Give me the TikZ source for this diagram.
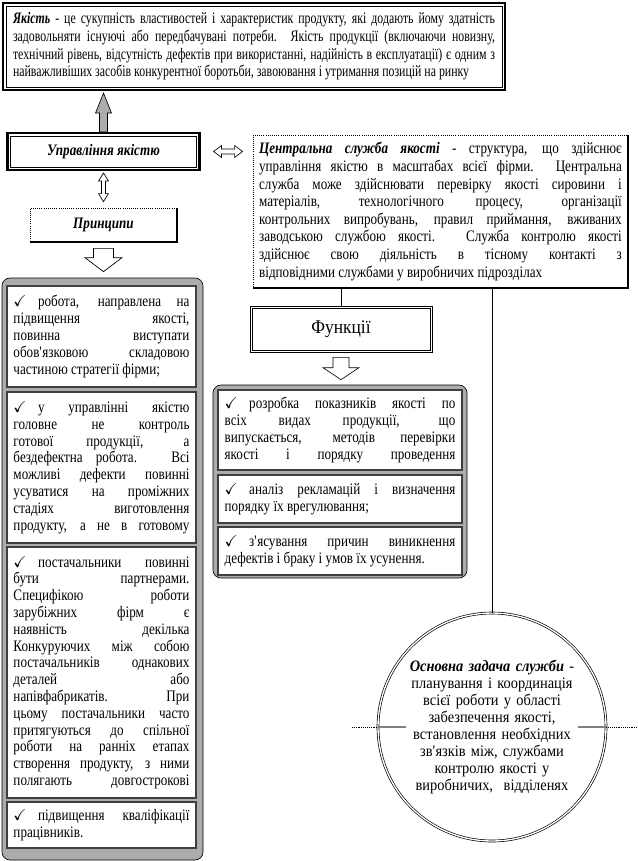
\documentclass[tikz,border=0pt]{standalone}
\usepackage{amssymb}
\usepackage{fontspec}
\setmainfont{Liberation Serif}[FakeStretch=0.82]
\newfontfamily\narrowserif{Liberation Serif}[FakeStretch=0.74]
\newfontfamily\wideserif{Liberation Serif}[FakeStretch=0.9]
\usetikzlibrary{calc,positioning}
\newcommand{\chk}{$\checkmark$\hspace{0.7em}}
\newcommand{\contd}{{\parfillskip=0pt\par}}
\newcommand{\apo}{\textquotesingle}

\begin{document}
\begin{tikzpicture}[x=0.75pt,y=-0.75pt,
    every node/.style={inner sep=0pt},
    txt/.style={font=\fontsize{12}{13.2}\selectfont},
    lsttxt/.style={font=\fontsize{12}{12.6}\selectfont},
    titletxt/.style={font=\fontsize{12}{13.2}\selectfont\bfseries\itshape},
    thickframe/.style={draw,line width=1.6pt},
    thinframe/.style={draw,line width=0.5pt},
    shadowframe/.style={draw,densely dotted,line width=0.6pt},
    shadowline/.style={line width=1.6pt},
    listframe/.style={draw,rounded corners=6pt,fill=gray!65,line width=0.5pt},
    pbox/.style={lsttxt,draw=black!75,line width=1pt,fill=white,minimum width=141.75pt,text width=132pt,align=justify},
    fbox/.style={lsttxt,draw=black!75,line width=1pt,fill=white,minimum width=183pt,text width=173pt,align=justify},
    hollow/.style={draw,line width=0.5pt,fill=white},
    stipple/.style={draw,line width=0.5pt,fill=gray!65}
  ]
  \useasboundingbox (0,0) rectangle (638,861);

  % quality definition
  \node[thickframe,font=\narrowserif\fontsize{12}{13.2}\selectfont,minimum width=376.5pt,minimum height=65.25pt,text width=361.5pt,align=justify] (qual) at (254,46.5)
    {\textbf{\textit{Якість}} - це сукупність властивостей і характеристик продукту, які додають йому здатність\linebreak
     задовольняти існуючі або передбачувані потреби. Якість продукції (включаючи новизну,\linebreak
     технічний рівень, відсутність дефектів при використанні, надійність в експлуатації) є одним з\linebreak
     найважливіших засобів конкурентної боротьби, завоювання і утримання позицій на ринку};
  \draw[thinframe] ([shift={(4,4)}]qual.north west) rectangle ([shift={(-4,-4)}]qual.south east);

  \node[thickframe,titletxt,minimum width=144pt,minimum height=27.75pt] (upr) at (103.5,151.5) {Управління якістю};
  \draw[thinframe] ([shift={(4,4)}]upr.north west) rectangle ([shift={(-4,-4)}]upr.south east);

  % central service
  \node[shadowframe,txt,minimum width=281.25pt,minimum height=114.75pt,text width=272pt,align=justify] (central) at (440.5,211.5)
    {\textbf{\textit{Центральна служба якості}} - структура, що здійснює\linebreak
     управління якістю в масштабах всієї фірми. Центральна\linebreak
     служба може здійснювати перевірку якості сировини і\linebreak
     матеріалів, технологічного процесу, організації\linebreak
     контрольних випробувань, правил приймання, вживаних\linebreak
     заводською службою якості. Служба контролю якості\linebreak
     здійснює свою діяльність в тісному контакті з\linebreak
     відповідними службами у виробничих підрозділах};
  \draw[shadowline] (central.north east) -- (central.south east) -- (central.south west);

  \node[shadowframe,titletxt,minimum width=110.25pt,minimum height=25.5pt] (prin) at (103.5,225) {Принципи};
  \draw[shadowline] (prin.north east) -- (prin.south east) -- (prin.south west);

  \node[thinframe,font=\wideserif\fontsize{14.5}{16}\selectfont,minimum width=136.5pt,minimum height=34.5pt] (funk) at (341,329) {Функції};
  \draw[thinframe] ([shift={(2.5,2.5)}]funk.north west) rectangle ([shift={(-2.5,-2.5)}]funk.south east);

  % principles
  \node[listframe,minimum width=150.75pt,minimum height=436.5pt] (plist) at (102.5,569) {};
  \node[pbox,minimum height=75.75pt] (p1) at (101.5,336.5)
    {\chk робота, направлена на\linebreak підвищення якості,\linebreak повинна виступати\linebreak
     обов\apo язковою складовою\linebreak частиною стратегії фірми;};
  \node[pbox,minimum height=113.25pt] (p2) at (101.5,467.5)
    {\chk у управлінні якістю\linebreak головне не контроль\linebreak готової продукції, а\linebreak
     бездефектна робота. Всі\linebreak можливі дефекти повинні\linebreak усуватися на проміжних\linebreak
     стадіях виготовлення\linebreak продукту, а не в готовому\contd};
  \node[pbox,minimum height=188.25pt] (p3) at (101.5,672.5)
    {\chk постачальники повинні\linebreak бути партнерами.\linebreak Специфікою роботи\linebreak
     зарубіжних фірм є\linebreak наявність декілька\linebreak Конкуруючих між собою\linebreak
     постачальників однакових\linebreak деталей або\linebreak напівфабрикатів. При\linebreak
     цьому постачальники часто\linebreak притягуються до спільної\linebreak роботи на ранніх етапах\linebreak
     створення продукту, з ними\linebreak полягають довгострокові\contd};
  \node[pbox,minimum height=34.5pt] (p4) at (101.5,825)
    {\chk підвищення кваліфікації\linebreak працівників.};

  % functions
  \node[listframe,minimum width=190.5pt,minimum height=144.75pt] (flist) at (340,481.5) {};
  \node[fbox,minimum height=60pt] (f1) at (340,430)
    {\chk розробка показників якості по\linebreak всіх видах продукції, що\linebreak
     випускається, методів перевірки\linebreak якості і порядку проведення\contd};
  \node[fbox,minimum height=36pt] (f2) at (340,499)
    {\chk аналіз рекламацій і визначення\linebreak порядку їх врегулювання;};
  \node[fbox,minimum height=36pt] (f3) at (340,551)
    {\chk з\apo ясування причин виникнення\linebreak дефектів і браку і умов їх усунення.};

  % main task
  \node[circle,draw,double,double distance=1pt,line width=0.5pt,minimum size=171pt,font=\wideserif\fontsize{12}{12.8}\selectfont,text width=130pt,align=center] (circ) at (492,727)
    {\textbf{\textit{Основна задача служби}} -\\ планування і координація\\ всієї роботи у області\\
     забезпечення якості,\\ встановлення необхідних\\ зв\apo язків між, службами\\ контролю якості у\\
     виробничих,~ відділенях};

  % arrows
  \coordinate (qtip) at (upr.north |- qual.south);
  \draw[stipple] ($(upr.north)+(-4,0)$) -- ($(qtip)+(-4,22)$) -- ($(qtip)+(-8,22)$) -- ($(qtip)+(0,2)$)
    -- ($(qtip)+(8,22)$) -- ($(qtip)+(4,22)$) -- ($(upr.north)+(4,0)$) -- cycle;

  \coordinate (ha) at ($(upr.east)+(13,0)$);
  \coordinate (hb) at ($(upr.east -| central.west)+(-10,0)$);
  \draw[hollow] (ha) -- ($(ha)+(8,-6)$) -- ($(ha)+(8,-2.5)$) -- ($(hb)+(-8,-2.5)$) -- ($(hb)+(-8,-6)$) -- (hb)
    -- ($(hb)+(-8,6)$) -- ($(hb)+(-8,2.5)$) -- ($(ha)+(8,2.5)$) -- ($(ha)+(8,6)$) -- cycle;

  \coordinate (va) at ($(upr.south)+(0,2)$);
  \coordinate (vb) at ($(prin.north)+(0,-6)$);
  \draw[hollow] (va) -- ($(va)+(-5,8)$) -- ($(va)+(-2,8)$) -- ($(vb)+(-2,-8)$) -- ($(vb)+(-5,-8)$) -- (vb)
    -- ($(vb)+(5,-8)$) -- ($(vb)+(2,-8)$) -- ($(va)+(2,8)$) -- ($(va)+(5,8)$) -- cycle;

  \coordinate (ptip) at ($(prin.south |- plist.north)+(0,-6)$);
  \draw[hollow] ($(prin.south)+(-10,6)$) -- ($(prin.south)+(10,6)$) -- ($(ptip)+(10,-14)$) -- ($(ptip)+(18.5,-14)$)
    -- (ptip) -- ($(ptip)+(-18.5,-14)$) -- ($(ptip)+(-10,-14)$) -- cycle;

  \coordinate (ftip) at ($(funk.south |- flist.north)+(0,-5)$);
  \draw[hollow] ($(funk.south)+(-8,5)$) -- ($(funk.south)+(8,5)$) -- ($(ftip)+(8,-12)$) -- ($(ftip)+(18,-12)$)
    -- (ftip) -- ($(ftip)+(-18,-12)$) -- ($(ftip)+(-8,-12)$) -- cycle;

  % links
  \draw (central.south -| funk.north) -- (funk.north);
  \draw (central.south -| circ.north) -- (circ.north);

  \coordinate (hl) at (352,727);
  \coordinate (hr) at (638,727);
  \draw[densely dotted] (hl) -- (circ.west);
  \draw[densely dotted] (circ.east) -- (hr);
  \draw[gray,line width=1.2pt] (circ.west) -- ++(28,0);
  \draw[gray,line width=1.2pt] (circ.east) -- ++(-28,0);
\end{tikzpicture}
\end{document}
